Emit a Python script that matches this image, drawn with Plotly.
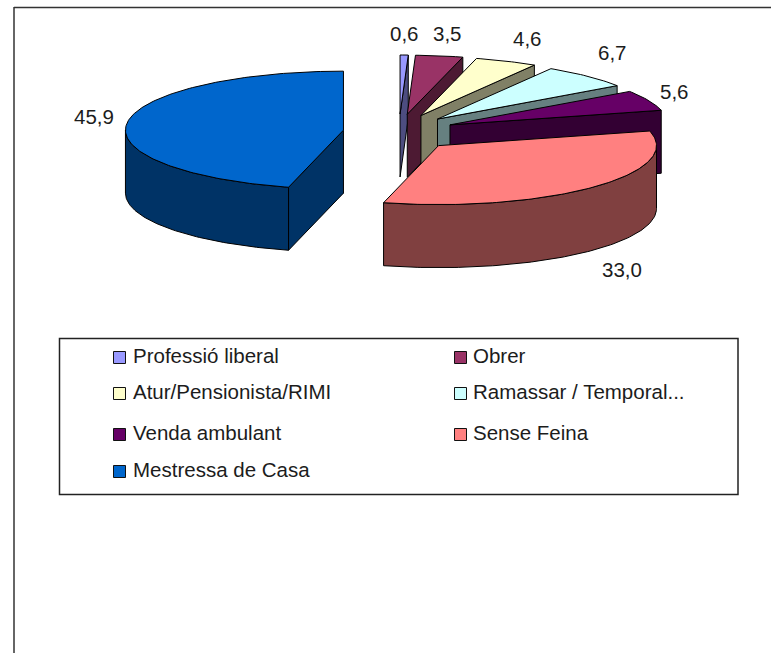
import math
import plotly.graph_objects as go

# Data
categories = ["Professió liberal", "Obrer", "Atur/Pensionista/RIMI", "Ramassar / Temporal...",
              "Venda ambulant", "Sense Feina", "Mestressa de Casa"]
values = [0.6, 3.5, 4.6, 6.7, 5.6, 33.0, 45.9]
value_labels = ["0,6", "3,5", "4,6", "6,7", "5,6", "33,0", "45,9"]
top_colors = ["#9999FF", "#993366", "#FFFFCC", "#CCFFFF", "#660066", "#FF8080", "#0066CC"]
side_colors = ["#4D4D80", "#4D1A33", "#808066", "#668080", "#330033", "#804040", "#003366"]

# Projection of the 3-D pie onto the page
CX, CY = 399, 132.5    # pie centre before explosion
RX, RY = 218, 59       # ellipse radii of the top face
EX, EY = 56, 18.5      # explosion distance
DEPTH = 63             # thickness of the pie
label_pos = [(404, 33), (447, 33), (527, 38), (612, 52), (674, 91), (622, 269), (94, 116)]
legend_rows = [355.5, 391.5, 432.5, 469.5]
legend_cols = [(119.5, 131), (460.5, 471)]

fig = go.Figure()


def poly(xs, ys, color):
    fig.add_trace(go.Scatter(x=xs + xs[:1], y=ys + ys[:1], mode="lines", fill="toself", fillcolor=color,
                             line=dict(color="#000000", width=1), hoverinfo="skip", showlegend=False))


def rim(cx, cy, a0, a1, drop=0.0):
    n = max(2, int(abs(a1 - a0)) + 2)
    angs = [math.radians(a0 + (a1 - a0) * i / (n - 1)) for i in range(n)]
    return [cx + RX * math.sin(a) for a in angs], [cy - RY * math.cos(a) + drop for a in angs]


total = sum(values)
start = 0.0
for val, top, side in zip(values, top_colors, side_colors):
    end = start + 360.0 * val / total
    mid = math.radians((start + end) / 2)
    cx = CX + EX * math.sin(mid)
    cy = CY - EY * math.cos(mid)

    # radial faces that look towards the viewer
    for ang, visible in ((start, math.sin(math.radians(start)) < -1e-6),
                         (end, math.sin(math.radians(end)) > 1e-6)):
        if visible:
            a = math.radians(ang)
            px, py = cx + RX * math.sin(a), cy - RY * math.cos(a)
            poly([cx, px, px, cx], [cy, py, py + DEPTH, cy + DEPTH], side)

    # outer wall, front half only
    lo, hi = max(start, 90.0), min(end, 270.0)
    if lo < hi:
        xt, yt = rim(cx, cy, lo, hi)
        xb, yb = rim(cx, cy, lo, hi, DEPTH)
        poly(xt + xb[::-1], yt + yb[::-1], side)

    # top face
    xt, yt = rim(cx, cy, start, end)
    poly([cx] + xt, [cy] + yt, top)
    start = end

# Frame and legend box
fig.add_shape(type="line", x0=14, y0=7.5, x1=771, y1=7.5, line=dict(color="#333333", width=1.5))
fig.add_shape(type="line", x0=14, y0=7, x1=14, y1=653, line=dict(color="#333333", width=1.5))
fig.add_shape(type="rect", x0=59.5, y0=338.5, x1=738, y1=494.5, line=dict(color="#222222", width=1.5),
              fillcolor="rgba(0,0,0,0)")

FONT = dict(family="Liberation Sans, Arial, sans-serif", size=20.5, color="#1c1c1c")

# Value labels
for txt, (lx, ly) in zip(value_labels, label_pos):
    fig.add_annotation(x=lx, y=ly, text=txt, showarrow=False, xanchor="center", yanchor="middle", font=FONT)

# Legend
for i, (name, color) in enumerate(zip(categories, top_colors)):
    row = legend_rows[i // 2]
    mx, tx = legend_cols[i % 2]
    fig.add_trace(go.Scatter(x=[mx], y=[row + 2], mode="markers", hoverinfo="skip", showlegend=False,
                             marker=dict(symbol="square", size=12, color=color, line=dict(color="#111111", width=1))))
    fig.add_annotation(x=tx, y=row, text=name, showarrow=False, xanchor="left", yanchor="middle", font=FONT)

fig.update_xaxes(range=[0, 771], visible=False, fixedrange=True)
fig.update_yaxes(range=[653, 0], visible=False, fixedrange=True)
fig.update_layout(width=771, height=653, margin=dict(l=0, r=0, t=0, b=0),
                  paper_bgcolor="#FFFFFF", plot_bgcolor="#FFFFFF", showlegend=False)

fig.write_html("out.html", config={"displayModeBar": False},
               post_script="document.body.style.margin='0';document.body.style.overflow='hidden';")
